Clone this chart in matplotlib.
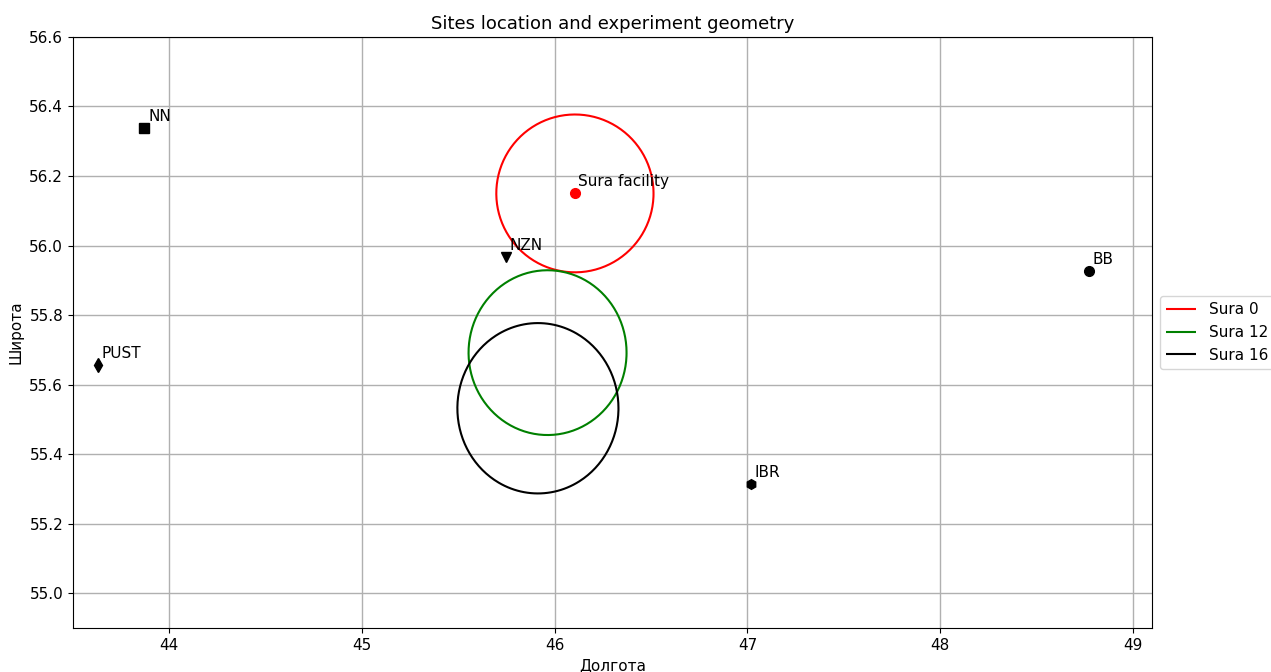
import numpy as np
import matplotlib
matplotlib.use('Agg')
import matplotlib.pyplot as plt

# sites: name, lon, lat, marker
site_names = ['NN', 'PUST', 'NZN', 'IBR', 'BB']
site_lon = [43.87, 43.63, 45.745, 47.017, 48.772]
site_lat = [56.338, 55.656, 55.967, 55.314, 55.927]
site_markers = ['s', 'd', 'v', 'h', 'o']

sura_lon = 46.103
sura_lat = 56.151

# heated spots: label, center lon/lat, radii in degrees
spot_labels = ['Sura 0', 'Sura 12', 'Sura 16']
spot_lon = [46.105, 45.963, 45.913]
spot_lat = [56.150, 55.692, 55.532]
spot_rlon = [0.408, 0.410, 0.418]
spot_rlat = [0.227, 0.237, 0.245]
spot_colors = ['red', 'green', 'black']


def plot_chart():
	fig = plt.figure(figsize=(12.71, 6.72), dpi=100)
	ax = fig.add_axes([0.0574, 0.0655, 0.849, 0.8795])

	t = np.linspace(0, 2 * np.pi, 300)
	for lab, lo, la, rx, ry, c in zip(spot_labels, spot_lon, spot_lat, spot_rlon, spot_rlat, spot_colors):
		ax.plot(lo + rx * np.cos(t), la + ry * np.sin(t), color=c, lw=1.5, label=lab,
				solid_capstyle='butt', solid_joinstyle='round')

	for n, lo, la, m in zip(site_names, site_lon, site_lat, site_markers):
		ax.plot(lo, la, marker=m, color='black', ls='none', ms=7)
		ax.text(lo + 0.02, la + 0.02, n, fontsize=11)

	ax.plot(sura_lon, sura_lat, 'o', color='red', ms=7)
	ax.text(sura_lon + 0.02, sura_lat + 0.02, 'Sura facility', fontsize=11)

	ax.set_xlim(43.5, 49.1)
	ax.set_ylim(54.9, 56.6)
	ax.set_xticks([44, 45, 46, 47, 48, 49])
	ax.set_yticks(np.arange(55.0, 56.61, 0.2))
	ax.tick_params(labelsize=11)
	ax.grid(True, color='#b0b0b0', lw=1)
	ax.set_xlabel('Долгота', fontsize=11)
	ax.set_ylabel('Широта', fontsize=11)
	ax.set_title('Sites location and experiment geometry', fontsize=13)
	ax.legend(loc='center left', bbox_to_anchor=(1.0, 0.5), fontsize=11)

	fig.savefig('out.png', dpi=100)


plot_chart()
